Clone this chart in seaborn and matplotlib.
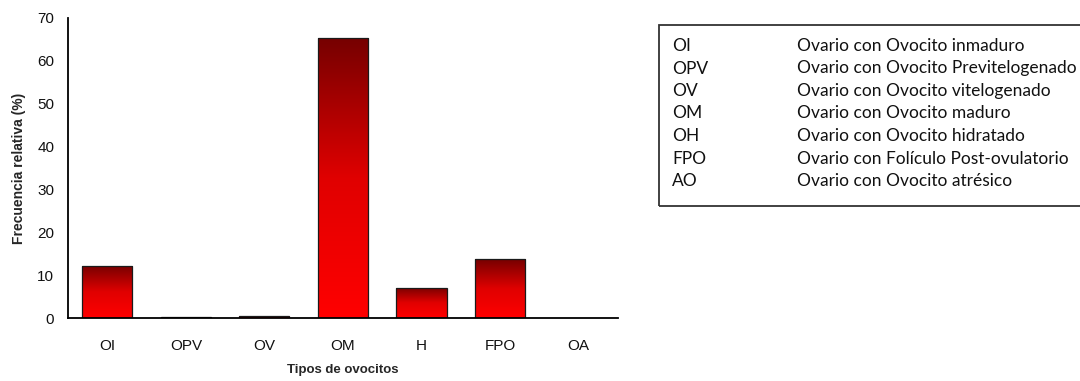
import numpy as np
import pandas as pd
import matplotlib
matplotlib.use("Agg")
import matplotlib.pyplot as plt
import seaborn as sns
from matplotlib.colors import LinearSegmentedColormap

categories = ["OI", "OPV", "OV", "OM", "H", "FPO", "OA"]
values = [12.2, 0.3, 0.6, 65.2, 7.0, 13.7, 0.0]
legend_codes = ["OI", "OPV", "OV", "OM", "OH", "FPO", "AO"]
legend_desc = ["Ovario con Ovocito inmaduro",
               "Ovario con Ovocito Previtelogenado",
               "Ovario con Ovocito vitelogenado",
               "Ovario con Ovocito maduro",
               "Ovario con Ovocito hidratado",
               "Ovario con Folículo Post-ovulatorio",
               "Ovario con Ovocito atrésico"]

sns.set_style("white")
plt.rcParams['font.family'] = ['Liberation Sans', 'DejaVu Sans']

df = pd.DataFrame({"cat": categories, "val": values})
fig = plt.figure(figsize=(10.8, 3.81), dpi=100)
ax = fig.add_axes([0.063, 0.165, 0.509, 0.788])
sns.barplot(data=df, x="cat", y="val", ax=ax, color="red", width=0.64,
            edgecolor="#1a1a1a", linewidth=0.9, saturation=1)

cmap = LinearSegmentedColormap.from_list("g", ["#ff0000", "#e00000", "#760000"])
grad = np.linspace(0, 1, 256).reshape(-1, 1)
for p in list(ax.patches):
    x0, y0 = p.get_x(), p.get_y()
    w, h = p.get_width(), p.get_height()
    if h <= 0:
        p.set_visible(False)
        continue
    im = ax.imshow(grad, extent=[x0, x0 + w, y0, y0 + h], origin="lower",
                   cmap=cmap, aspect="auto", zorder=p.get_zorder())
    im.set_clip_path(p)
    p.set_facecolor("none")
    p.set_zorder(p.get_zorder() + 0.1)

ax.set_xlim(-0.5, len(categories) - 0.5)
ax.set_ylim(0, 70)
ax.set_yticks(range(0, 71, 10))
ax.set_xticks(np.arange(len(categories)))
ax.set_xticklabels(categories)
ax.set_xticks(np.arange(-0.5, len(categories)), minor=True)
ax.tick_params(axis="x", which="major", length=0, pad=15, labelsize=11, labelcolor="#111111")
ax.tick_params(axis="x", which="minor", length=5, width=1, color="black", direction="out")
ax.tick_params(axis="y", length=4, width=1, color="black", direction="out",
               labelsize=11, pad=6, labelcolor="#111111")
for s in ["top", "right"]:
    ax.spines[s].set_visible(False)
for s in ["left", "bottom"]:
    ax.spines[s].set_color("black")
    ax.spines[s].set_linewidth(1.3)
ax.set_xlabel("Tipos de ovocitos", fontsize=9.5, fontweight="bold", labelpad=8)
ax.set_ylabel("Frecuencia relativa (%)", fontsize=10, fontweight="bold", labelpad=8)

# legend table
box = plt.Rectangle((659 / 1080, 1 - 206 / 381), (1095 - 659) / 1080, (206 - 25) / 381,
                    transform=fig.transFigure, fill=False, edgecolor="#333333",
                    linewidth=1.3, clip_on=False)
fig.add_artist(box)
for i, (c, d) in enumerate(zip(legend_codes, legend_desc)):
    y = 1 - (46 + i * 22.5) / 381
    fig.text(672 / 1080, y, c, fontsize=12.5, family=["Lato", "DejaVu Sans"], va="center",
             color="#111111")
    fig.text(797 / 1080, y, d, fontsize=12.5, family=["Lato", "DejaVu Sans"], va="center",
             color="#111111")

fig.savefig("out.png", dpi=100)
